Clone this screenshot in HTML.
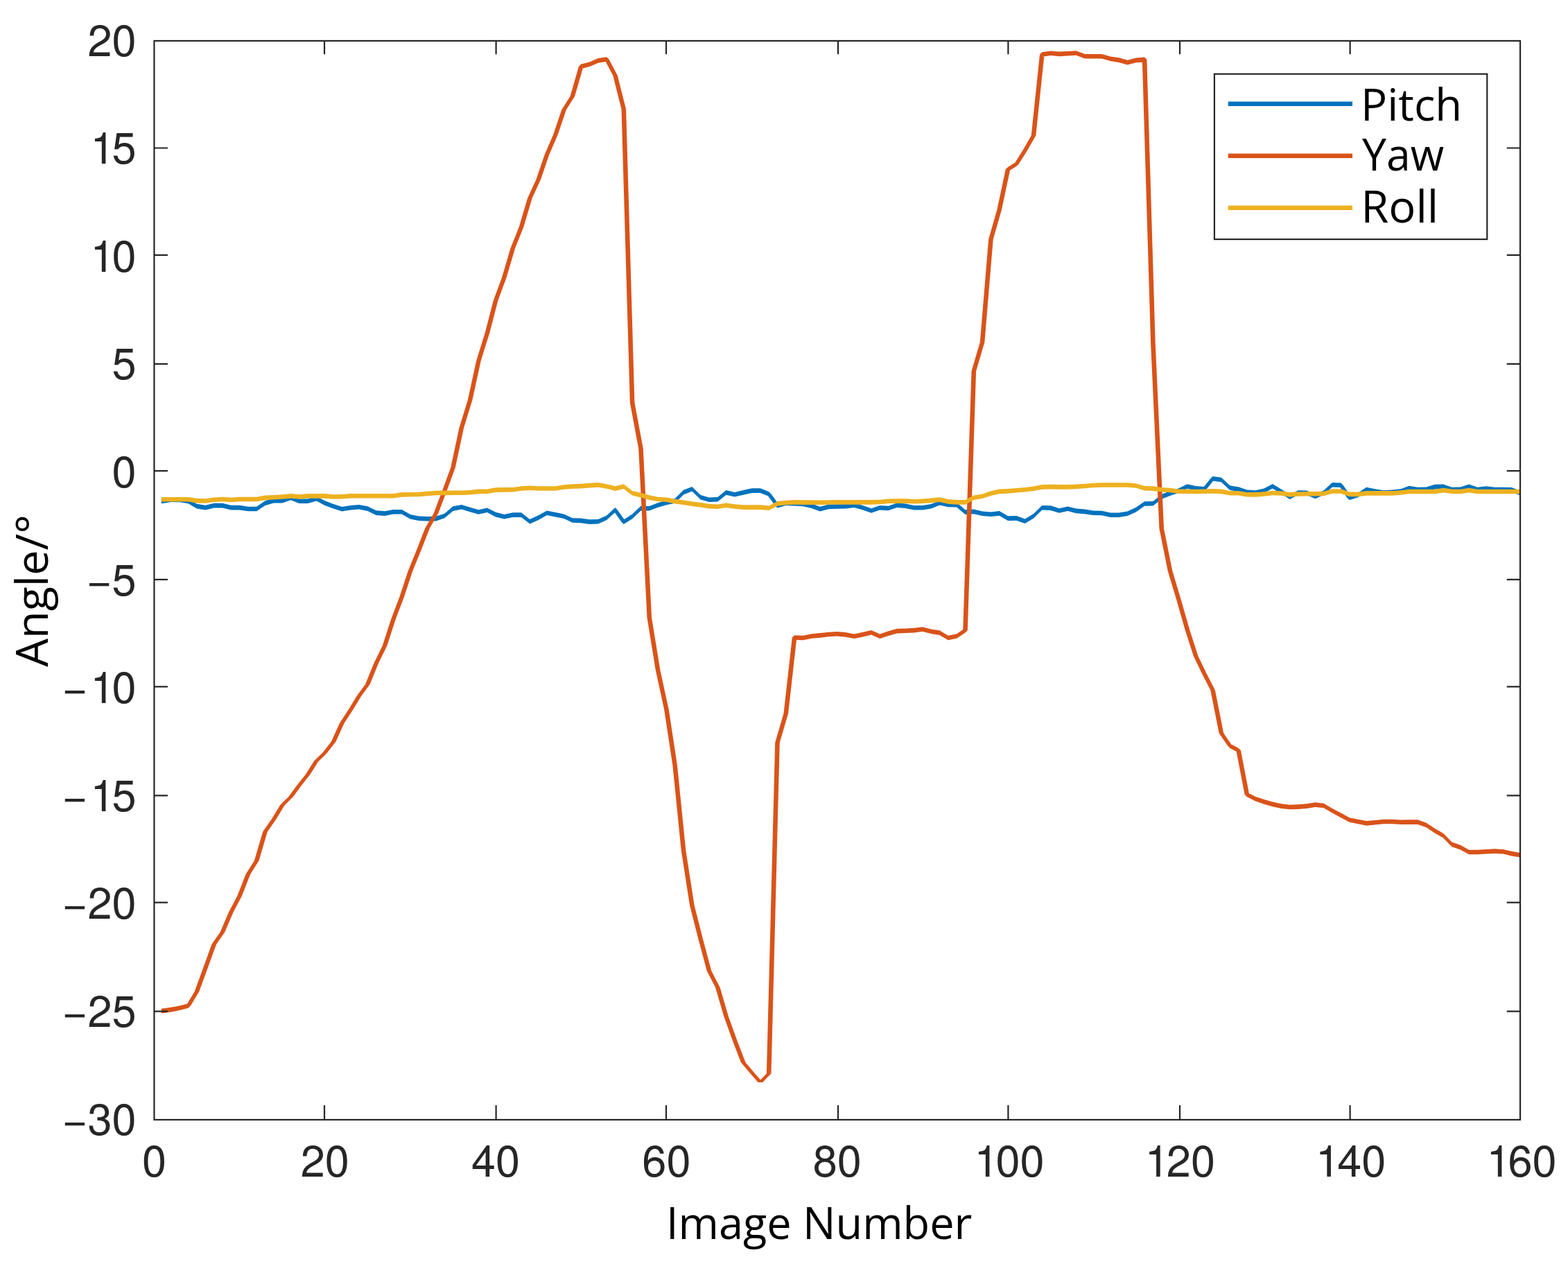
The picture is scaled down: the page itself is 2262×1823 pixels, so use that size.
<!DOCTYPE html>
<html lang="en">
<head>
<meta charset="utf-8">
<title>Pitch / Yaw / Roll angle per image number</title>
<style>
html,body{margin:0;padding:0;background:#fff;}
body{width:2262px;height:1823px;overflow:hidden;}
svg{display:block;}
.tk{font-family:"TeX Gyre Heros", "Liberation Sans", Arial, Helvetica, sans-serif;font-size:63.1px;fill:#262626;}
.lb{font-family:"Open Sans", "DejaVu Sans", "Liberation Sans", sans-serif;font-size:63.7px;fill:#000;}
.ax{stroke:#262626;stroke-width:2.2;fill:none;}
</style>
</head>
<body>
<svg xmlns="http://www.w3.org/2000/svg" width="2262" height="1823" viewBox="0 0 2262 1823">
<rect x="0" y="0" width="2262" height="1823" fill="#ffffff"/>
<defs><clipPath id="plotclip"><rect x="222.44" y="58.9" width="1970.60" height="1556.05"/></clipPath></defs>

<g clip-path="url(#plotclip)">
<path id="series-pitch" fill="#0072BD" fill-rule="nonzero" d="M232.8 719.5L234.8 719.5L234.8 726.1L232.8 726.1Z
M234.8 719.5L247.1 717.4L247.1 724.0L234.8 726.1Z
M247.1 717.4L259.4 717.7L259.4 724.3L247.1 724.0Z
M259.4 717.7L271.7 719.7L271.7 726.3L259.4 724.3Z
M271.7 719.7L284.0 726.8L284.0 733.4L271.7 726.3Z
M284.0 726.8L296.3 728.8L296.3 735.4L284.0 733.4Z
M296.3 728.8L308.7 725.8L308.7 732.4L296.3 735.4Z
M308.7 725.8L321.0 725.8L321.0 732.4L308.7 732.4Z
M321.0 725.8L333.3 728.8L333.3 735.4L321.0 732.4Z
M333.3 728.8L345.6 728.8L345.6 735.4L333.3 735.4Z
M345.6 728.8L357.9 730.7L357.9 737.3L345.6 735.4Z
M357.9 730.7L370.2 730.7L370.2 737.3L357.9 737.3Z
M370.2 730.7L382.5 722.3L382.5 728.9L370.2 737.3Z
M382.5 722.3L394.9 718.8L394.9 725.4L382.5 728.9Z
M394.9 718.8L407.2 718.8L407.2 725.4L394.9 725.4Z
M407.2 718.8L419.5 714.6L419.5 721.2L407.2 725.4Z
M419.5 714.6L431.8 719.5L431.8 726.1L419.5 721.2Z
M431.8 719.5L444.1 719.5L444.1 726.1L431.8 726.1Z
M444.1 719.5L456.4 716.0L456.4 722.6L444.1 726.1Z
M456.4 716.0L468.8 722.3L468.8 728.9L456.4 722.6Z
M468.8 722.3L481.1 727.0L481.1 733.6L468.8 728.9Z
M481.1 727.0L493.4 730.9L493.4 737.5L481.1 733.6Z
M493.4 730.9L505.7 728.9L505.7 735.5L493.4 737.5Z
M505.7 728.9L518.0 727.9L518.0 734.5L505.7 735.5Z
M518.0 727.9L530.3 730.3L530.3 736.9L518.0 734.5Z
M530.3 730.3L542.7 736.3L542.7 742.9L530.3 736.9Z
M542.7 736.3L555.0 737.3L555.0 743.9L542.7 742.9Z
M555.0 737.3L567.3 735.0L567.3 741.6L555.0 743.9Z
M567.3 735.0L579.6 734.9L579.6 741.5L567.3 741.6Z
M579.6 734.9L591.9 741.9L591.9 748.5L579.6 741.5Z
M591.9 741.9L604.2 744.4L604.2 751.0L591.9 748.5Z
M604.2 744.4L616.6 744.9L616.6 751.5L604.2 751.0Z
M616.6 744.9L628.9 744.8L628.9 751.4L616.6 751.5Z
M628.9 744.8L641.2 740.7L641.2 747.3L628.9 751.4Z
M641.2 740.7L653.5 730.3L653.5 736.9L641.2 747.3Z
M653.5 730.3L665.8 727.9L665.8 734.5L653.5 736.9Z
M665.8 727.9L678.1 731.7L678.1 738.3L665.8 734.5Z
M678.1 731.7L690.4 735.2L690.4 741.8L678.1 738.3Z
M690.4 735.2L702.8 732.4L702.8 739.0L690.4 741.8Z
M702.8 732.4L715.1 738.8L715.1 745.4L702.8 739.0Z
M715.1 738.8L727.4 741.9L727.4 748.5L715.1 745.4Z
M727.4 741.9L739.7 739.3L739.7 745.9L727.4 748.5Z
M739.7 739.3L752.0 739.3L752.0 745.9L739.7 745.9Z
M752.0 739.3L764.3 748.9L764.3 755.5L752.0 745.9Z
M764.3 748.9L776.7 743.3L776.7 749.9L764.3 755.5Z
M776.7 743.3L789.0 736.5L789.0 743.1L776.7 749.9Z
M789.0 736.5L801.3 739.0L801.3 745.6L789.0 743.1Z
M801.3 739.0L813.6 741.4L813.6 748.0L801.3 745.6Z
M813.6 741.4L825.9 747.2L825.9 753.8L813.6 748.0Z
M825.9 747.2L838.2 747.6L838.2 754.2L825.9 753.8Z
M838.2 747.6L850.6 749.3L850.6 755.9L838.2 754.2Z
M850.6 749.3L862.9 749.0L862.9 755.6L850.6 755.9Z
M862.9 749.0L875.2 743.4L875.2 750.0L862.9 755.6Z
M875.2 743.4L887.5 732.1L887.5 738.7L875.2 750.0Z
M890.8 735.4L903.1 752.8L896.5 752.8L884.2 735.4Z
M899.8 749.5L912.1 741.6L912.1 748.2L899.8 756.1Z
M912.1 741.6L924.5 729.8L924.5 736.4L912.1 748.2Z
M924.5 729.8L936.8 730.0L936.8 736.6L924.5 736.4Z
M936.8 730.0L949.1 725.2L949.1 731.8L936.8 736.6Z
M949.1 725.2L961.4 721.6L961.4 728.2L949.1 731.8Z
M961.4 721.6L973.7 719.1L973.7 725.7L961.4 728.2Z
M973.7 719.1L986.0 706.8L986.0 713.4L973.7 725.7Z
M986.0 706.8L998.3 701.9L998.3 708.5L986.0 713.4Z
M998.3 701.9L1010.7 714.0L1010.7 720.6L998.3 708.5Z
M1010.7 714.0L1023.0 717.4L1023.0 724.0L1010.7 720.6Z
M1023.0 717.4L1035.3 717.0L1035.3 723.6L1023.0 724.0Z
M1035.3 717.0L1047.6 707.1L1047.6 713.7L1035.3 723.6Z
M1047.6 707.1L1059.9 709.9L1059.9 716.5L1047.6 713.7Z
M1059.9 709.9L1072.2 707.1L1072.2 713.7L1059.9 716.5Z
M1072.2 707.1L1084.6 704.3L1084.6 710.9L1072.2 713.7Z
M1084.6 704.3L1096.9 704.3L1096.9 710.9L1084.6 710.9Z
M1096.9 704.3L1109.2 709.2L1109.2 715.8L1096.9 710.9Z
M1112.5 712.5L1124.8 729.2L1118.2 729.2L1105.9 712.5Z
M1121.5 725.9L1133.8 722.4L1133.8 729.0L1121.5 732.5Z
M1133.8 722.4L1146.1 722.9L1146.1 729.5L1133.8 729.0Z
M1146.1 722.9L1158.5 723.6L1158.5 730.2L1146.1 729.5Z
M1158.5 723.6L1170.8 726.4L1170.8 733.0L1158.5 730.2Z
M1170.8 726.4L1183.1 730.8L1183.1 737.4L1170.8 733.0Z
M1183.1 730.8L1195.4 727.6L1195.4 734.2L1183.1 737.4Z
M1195.4 727.6L1207.7 727.2L1207.7 733.8L1195.4 734.2Z
M1207.7 727.2L1220.0 726.9L1220.0 733.5L1207.7 733.8Z
M1220.0 726.9L1232.4 725.5L1232.4 732.1L1220.0 733.5Z
M1232.4 725.5L1244.7 729.0L1244.7 735.6L1232.4 732.1Z
M1244.7 729.0L1257.0 733.2L1257.0 739.8L1244.7 735.6Z
M1257.0 733.2L1269.3 729.0L1269.3 735.6L1257.0 739.8Z
M1269.3 729.0L1281.6 729.7L1281.6 736.3L1269.3 735.6Z
M1281.6 729.7L1293.9 725.5L1293.9 732.1L1281.6 736.3Z
M1293.9 725.5L1306.2 726.5L1306.2 733.1L1293.9 732.1Z
M1306.2 726.5L1318.6 729.0L1318.6 735.6L1306.2 733.1Z
M1318.6 729.0L1330.9 729.0L1330.9 735.6L1318.6 735.6Z
M1330.9 729.0L1343.2 726.9L1343.2 733.5L1330.9 735.6Z
M1343.2 726.9L1355.5 722.0L1355.5 728.6L1343.2 733.5Z
M1355.5 722.0L1367.8 724.6L1367.8 731.2L1355.5 728.6Z
M1367.8 724.6L1380.1 724.8L1380.1 731.4L1367.8 731.2Z
M1380.1 724.8L1392.5 735.3L1392.5 741.9L1380.1 731.4Z
M1392.5 735.3L1404.8 734.6L1404.8 741.2L1392.5 741.9Z
M1404.8 734.6L1417.1 737.5L1417.1 744.1L1404.8 741.2Z
M1417.1 737.5L1429.4 738.5L1429.4 745.1L1417.1 744.1Z
M1429.4 738.5L1441.7 737.1L1441.7 743.7L1429.4 745.1Z
M1441.7 737.1L1454.0 744.3L1454.0 750.9L1441.7 743.7Z
M1454.0 744.3L1466.4 744.1L1466.4 750.7L1454.0 750.9Z
M1466.4 744.1L1478.7 748.5L1478.7 755.1L1466.4 750.7Z
M1478.7 748.5L1491.0 740.9L1491.0 747.5L1478.7 755.1Z
M1491.0 740.9L1503.3 729.0L1503.3 735.6L1491.0 747.5Z
M1503.3 729.0L1515.6 729.3L1515.6 735.9L1503.3 735.6Z
M1515.6 729.3L1527.9 733.2L1527.9 739.8L1515.6 735.9Z
M1527.9 733.2L1540.3 730.4L1540.3 737.0L1527.9 739.8Z
M1540.3 730.4L1552.6 733.6L1552.6 740.2L1540.3 737.0Z
M1552.6 733.6L1564.9 734.6L1564.9 741.2L1552.6 740.2Z
M1564.9 734.6L1577.2 736.4L1577.2 743.0L1564.9 741.2Z
M1577.2 736.4L1589.5 736.7L1589.5 743.3L1577.2 743.0Z
M1589.5 736.7L1601.8 739.5L1601.8 746.1L1589.5 743.3Z
M1601.8 739.5L1614.1 739.5L1614.1 746.1L1601.8 746.1Z
M1614.1 739.5L1626.5 737.4L1626.5 744.0L1614.1 746.1Z
M1626.5 737.4L1638.8 731.8L1638.8 738.4L1626.5 744.0Z
M1638.8 731.8L1651.1 723.2L1651.1 729.8L1638.8 738.4Z
M1651.1 723.2L1663.4 722.9L1663.4 729.5L1651.1 729.8Z
M1663.4 722.9L1675.7 713.1L1675.7 719.7L1663.4 729.5Z
M1675.7 713.1L1688.0 708.3L1688.0 714.9L1675.7 719.7Z
M1688.0 708.3L1700.4 704.2L1700.4 710.8L1688.0 714.9Z
M1700.4 704.2L1712.7 698.2L1712.7 704.8L1700.4 710.8Z
M1712.7 698.2L1725.0 701.1L1725.0 707.7L1712.7 704.8Z
M1725.0 701.1L1737.3 702.1L1737.3 708.7L1725.0 707.7Z
M1734.0 705.4L1746.3 690.2L1752.9 690.2L1740.6 705.4Z
M1749.6 686.9L1761.9 688.7L1761.9 695.3L1749.6 693.5Z
M1761.9 688.7L1774.3 700.3L1774.3 706.9L1761.9 695.3Z
M1774.3 700.3L1786.6 702.3L1786.6 708.9L1774.3 706.9Z
M1786.6 702.3L1798.9 706.5L1798.9 713.1L1786.6 708.9Z
M1798.9 706.5L1811.2 707.3L1811.2 713.9L1798.9 713.1Z
M1811.2 707.3L1823.5 704.4L1823.5 711.0L1811.2 713.9Z
M1823.5 704.4L1835.8 698.0L1835.8 704.6L1823.5 711.0Z
M1835.8 698.0L1848.2 705.5L1848.2 712.1L1835.8 704.6Z
M1848.2 705.5L1860.5 713.4L1860.5 720.0L1848.2 712.1Z
M1860.5 713.4L1872.8 707.3L1872.8 713.9L1860.5 720.0Z
M1872.8 707.3L1885.1 707.5L1885.1 714.1L1872.8 713.9Z
M1885.1 707.5L1897.4 712.7L1897.4 719.3L1885.1 714.1Z
M1897.4 712.7L1909.7 707.2L1909.7 713.8L1897.4 719.3Z
M1909.7 707.2L1922.0 696.0L1922.0 702.6L1909.7 713.8Z
M1922.0 696.0L1934.4 696.4L1934.4 703.0L1922.0 702.6Z
M1937.7 699.7L1950.0 717.9L1943.4 717.9L1931.1 699.7Z
M1946.7 714.6L1959.0 710.7L1959.0 717.3L1946.7 721.2Z
M1959.0 710.7L1971.3 702.8L1971.3 709.4L1959.0 717.3Z
M1971.3 702.8L1983.6 705.2L1983.6 711.8L1971.3 709.4Z
M1983.6 705.2L1995.9 707.2L1995.9 713.8L1983.6 711.8Z
M1995.9 707.2L2008.3 706.6L2008.3 713.2L1995.9 713.8Z
M2008.3 706.6L2020.6 705.2L2020.6 711.8L2008.3 713.2Z
M2020.6 705.2L2032.9 700.8L2032.9 707.4L2020.6 711.8Z
M2032.9 700.8L2045.2 702.8L2045.2 709.4L2032.9 707.4Z
M2045.2 702.8L2057.5 702.6L2057.5 709.2L2045.2 709.4Z
M2057.5 702.6L2069.8 698.8L2069.8 705.4L2057.5 709.2Z
M2069.8 698.8L2082.2 698.4L2082.2 705.0L2069.8 705.4Z
M2082.2 698.4L2094.5 702.8L2094.5 709.4L2082.2 705.0Z
M2094.5 702.8L2106.8 702.6L2106.8 709.2L2094.5 709.4Z
M2106.8 702.6L2119.1 698.4L2119.1 705.0L2106.8 709.2Z
M2119.1 698.4L2131.4 702.8L2131.4 709.4L2119.1 705.0Z
M2131.4 702.8L2143.7 701.2L2143.7 707.8L2131.4 709.4Z
M2143.7 701.2L2156.1 702.8L2156.1 709.4L2143.7 707.8Z
M2156.1 702.8L2168.4 702.8L2168.4 709.4L2156.1 709.4Z
M2168.4 702.8L2180.7 703.1L2180.7 709.7L2168.4 709.4Z
M2180.7 703.1L2193.0 707.8L2193.0 714.4L2180.7 709.7Z
M887.5 732.1L890.8 735.4L887.5 738.7L884.2 735.4Z
M899.8 749.5L903.1 752.8L899.8 756.1L896.5 752.8Z
M1109.2 709.2L1112.5 712.5L1109.2 715.8L1105.9 712.5Z
M1121.5 725.9L1124.8 729.2L1121.5 732.5L1118.2 729.2Z
M1737.3 702.1L1740.6 705.4L1737.3 708.7L1734.0 705.4Z
M1749.6 686.9L1752.9 690.2L1749.6 693.5L1746.3 690.2Z
M1934.4 696.4L1937.7 699.7L1934.4 703.0L1931.1 699.7Z
M1946.7 714.6L1950.0 717.9L1946.7 721.2L1943.4 717.9Z"/>
<path id="series-yaw" fill="#D95319" fill-rule="nonzero" d="M232.8 1454.6L234.8 1454.6L234.8 1461.2L232.8 1461.2Z
M234.8 1454.6L247.1 1452.8L247.1 1459.4L234.8 1461.2Z
M247.1 1452.8L259.4 1450.5L259.4 1457.1L247.1 1459.4Z
M259.4 1450.5L271.7 1447.2L271.7 1453.8L259.4 1457.1Z
M268.4 1450.5L280.7 1430.1L287.3 1430.1L275.0 1450.5Z
M280.7 1430.1L293.0 1396.3L299.6 1396.3L287.3 1430.1Z
M293.0 1396.3L305.4 1361.9L312.0 1361.9L299.6 1396.3Z
M305.4 1361.9L317.7 1344.3L324.3 1344.3L312.0 1361.9Z
M317.7 1344.3L330.0 1315.5L336.6 1315.5L324.3 1344.3Z
M330.0 1315.5L342.3 1292.3L348.9 1292.3L336.6 1315.5Z
M342.3 1292.3L354.6 1260.7L361.2 1260.7L348.9 1292.3Z
M354.6 1260.7L366.9 1241.2L373.5 1241.2L361.2 1260.7Z
M366.9 1241.2L379.2 1199.4L385.8 1199.4L373.5 1241.2Z
M379.2 1199.4L391.6 1181.8L398.2 1181.8L385.8 1199.4Z
M391.6 1181.8L403.9 1161.4L410.5 1161.4L398.2 1181.8Z
M407.2 1158.1L419.5 1146.0L419.5 1152.6L407.2 1164.7Z
M416.2 1149.3L428.5 1132.5L435.1 1132.5L422.8 1149.3Z
M428.5 1132.5L440.8 1117.1L447.4 1117.1L435.1 1132.5Z
M440.8 1117.1L453.1 1097.6L459.7 1097.6L447.4 1117.1Z
M456.4 1094.3L468.8 1082.3L468.8 1088.9L456.4 1100.9Z
M465.5 1085.6L477.8 1069.8L484.4 1069.8L472.1 1085.6Z
M477.8 1069.8L490.1 1042.8L496.7 1042.8L484.4 1069.8Z
M490.1 1042.8L502.4 1023.9L509.0 1023.9L496.7 1042.8Z
M502.4 1023.9L514.7 1003.8L521.3 1003.8L509.0 1023.9Z
M514.7 1003.8L527.0 987.1L533.6 987.1L521.3 1003.8Z
M527.0 987.1L539.4 956.5L546.0 956.5L533.6 987.1Z
M539.4 956.5L551.7 931.4L558.3 931.4L546.0 956.5Z
M551.7 931.4L564.0 893.4L570.6 893.4L558.3 931.4Z
M564.0 893.4L576.3 860.9L582.9 860.9L570.6 893.4Z
M576.3 860.9L588.6 823.7L595.2 823.7L582.9 860.9Z
M588.6 823.7L600.9 793.4L607.5 793.4L595.2 823.7Z
M600.9 793.4L613.3 761.8L619.9 761.8L607.5 793.4Z
M613.3 761.8L625.6 740.5L632.2 740.5L619.9 761.8Z
M625.6 740.5L637.9 708.0L644.5 708.0L632.2 740.5Z
M637.9 708.0L650.2 674.6L656.8 674.6L644.5 708.0Z
M650.2 674.6L662.5 617.0L669.1 617.0L656.8 674.6Z
M662.5 617.0L674.8 577.1L681.4 577.1L669.1 617.0Z
M674.8 577.1L687.1 520.4L693.7 520.4L681.4 577.1Z
M687.1 520.4L699.5 480.8L706.1 480.8L693.7 520.4Z
M699.5 480.8L711.8 433.5L718.4 433.5L706.1 480.8Z
M711.8 433.5L724.1 400.0L730.7 400.0L718.4 433.5Z
M724.1 400.0L736.4 358.3L743.0 358.3L730.7 400.0Z
M736.4 358.3L748.7 327.6L755.3 327.6L743.0 358.3Z
M748.7 327.6L761.0 286.0L767.6 286.0L755.3 327.6Z
M761.0 286.0L773.4 259.0L780.0 259.0L767.6 286.0Z
M773.4 259.0L785.7 223.0L792.3 223.0L780.0 259.0Z
M785.7 223.0L798.0 194.6L804.6 194.6L792.3 223.0Z
M798.0 194.6L810.3 158.2L816.9 158.2L804.6 194.6Z
M810.3 158.2L822.6 138.7L829.2 138.7L816.9 158.2Z
M822.6 138.7L834.9 95.9L841.5 95.9L829.2 138.7Z
M838.2 92.6L850.6 89.4L850.6 96.0L838.2 99.2Z
M850.6 89.4L862.9 84.1L862.9 90.7L850.6 96.0Z
M862.9 84.1L875.2 82.2L875.2 88.8L862.9 90.7Z
M878.5 85.5L890.8 108.7L884.2 108.7L871.9 85.5Z
M890.8 108.7L903.1 157.5L896.5 157.5L884.2 108.7Z
M903.1 157.5L915.4 580.4L908.8 580.4L896.5 157.5Z
M915.4 580.4L927.8 647.0L921.2 647.0L908.8 580.4Z
M927.8 647.0L940.1 891.0L933.5 891.0L921.2 647.0Z
M940.1 891.0L952.4 966.4L945.8 966.4L933.5 891.0Z
M952.4 966.4L964.7 1023.0L958.1 1023.0L945.8 966.4Z
M964.7 1023.0L977.0 1104.0L970.4 1104.0L958.1 1023.0Z
M977.0 1104.0L989.3 1226.3L982.7 1226.3L970.4 1104.0Z
M989.3 1226.3L1001.6 1305.5L995.0 1305.5L982.7 1226.3Z
M1001.6 1305.5L1014.0 1354.2L1007.4 1354.2L995.0 1305.5Z
M1014.0 1354.2L1026.3 1400.2L1019.7 1400.2L1007.4 1354.2Z
M1026.3 1400.2L1038.6 1424.0L1032.0 1424.0L1019.7 1400.2Z
M1038.6 1424.0L1050.9 1466.0L1044.3 1466.0L1032.0 1424.0Z
M1050.9 1466.0L1063.2 1500.3L1056.6 1500.3L1044.3 1466.0Z
M1063.2 1500.3L1075.5 1532.3L1068.9 1532.3L1056.6 1500.3Z
M1075.5 1532.3L1087.9 1546.9L1081.3 1546.9L1068.9 1532.3Z
M1087.9 1546.9L1100.2 1560.9L1093.6 1560.9L1081.3 1546.9Z
M1093.6 1560.9L1105.9 1548.3L1112.5 1548.3L1100.2 1560.9Z
M1105.9 1548.3L1118.2 1071.0L1124.8 1071.0L1112.5 1548.3Z
M1118.2 1071.0L1130.5 1029.0L1137.1 1029.0L1124.8 1071.0Z
M1130.5 1029.0L1142.8 919.5L1149.4 919.5L1137.1 1029.0Z
M1146.1 916.2L1158.5 916.7L1158.5 923.3L1146.1 922.8Z
M1158.5 916.7L1170.8 914.2L1170.8 920.8L1158.5 923.3Z
M1170.8 914.2L1183.1 913.1L1183.1 919.7L1170.8 920.8Z
M1183.1 913.1L1195.4 911.7L1195.4 918.3L1183.1 919.7Z
M1195.4 911.7L1207.7 910.9L1207.7 917.5L1195.4 918.3Z
M1207.7 910.9L1220.0 912.1L1220.0 918.7L1207.7 917.5Z
M1220.0 912.1L1232.4 914.5L1232.4 921.1L1220.0 918.7Z
M1232.4 914.5L1244.7 911.8L1244.7 918.4L1232.4 921.1Z
M1244.7 911.8L1257.0 908.9L1257.0 915.5L1244.7 918.4Z
M1257.0 908.9L1269.3 914.5L1269.3 921.1L1257.0 915.5Z
M1269.3 914.5L1281.6 910.3L1281.6 916.9L1269.3 921.1Z
M1281.6 910.3L1293.9 906.8L1293.9 913.4L1281.6 916.9Z
M1293.9 906.8L1306.2 906.5L1306.2 913.1L1293.9 913.4Z
M1306.2 906.5L1318.6 905.8L1318.6 912.4L1306.2 913.1Z
M1318.6 905.8L1330.9 904.2L1330.9 910.8L1318.6 912.4Z
M1330.9 904.2L1343.2 907.5L1343.2 914.1L1330.9 910.8Z
M1343.2 907.5L1355.5 909.3L1355.5 915.9L1343.2 914.1Z
M1355.5 909.3L1367.8 916.7L1367.8 923.3L1355.5 915.9Z
M1367.8 916.7L1380.1 914.2L1380.1 920.8L1367.8 923.3Z
M1380.1 914.2L1392.5 905.8L1392.5 912.4L1380.1 920.8Z
M1389.2 909.1L1401.5 535.2L1408.1 535.2L1395.8 909.1Z
M1401.5 535.2L1413.8 493.4L1420.4 493.4L1408.1 535.2Z
M1413.8 493.4L1426.1 345.3L1432.7 345.3L1420.4 493.4Z
M1426.1 345.3L1438.4 302.2L1445.0 302.2L1432.7 345.3Z
M1438.4 302.2L1450.7 244.3L1457.3 244.3L1445.0 302.2Z
M1454.0 241.0L1466.4 233.2L1466.4 239.8L1454.0 247.6Z
M1463.1 236.5L1475.4 217.0L1482.0 217.0L1469.7 236.5Z
M1475.4 217.0L1487.7 195.5L1494.3 195.5L1482.0 217.0Z
M1487.7 195.5L1500.0 78.6L1506.6 78.6L1494.3 195.5Z
M1503.3 75.3L1515.6 73.4L1515.6 80.0L1503.3 81.9Z
M1515.6 73.4L1527.9 74.6L1527.9 81.2L1515.6 80.0Z
M1527.9 74.6L1540.3 73.9L1540.3 80.5L1527.9 81.2Z
M1540.3 73.9L1552.6 73.2L1552.6 79.8L1540.3 80.5Z
M1552.6 73.2L1564.9 78.0L1564.9 84.6L1552.6 79.8Z
M1564.9 78.0L1577.2 78.0L1577.2 84.6L1564.9 84.6Z
M1577.2 78.0L1589.5 78.0L1589.5 84.6L1577.2 84.6Z
M1589.5 78.0L1601.8 81.5L1601.8 88.1L1589.5 84.6Z
M1601.8 81.5L1614.1 83.3L1614.1 89.9L1601.8 88.1Z
M1614.1 83.3L1626.5 86.8L1626.5 93.4L1614.1 89.9Z
M1626.5 86.8L1638.8 83.6L1638.8 90.2L1626.5 93.4Z
M1638.8 83.6L1651.1 82.6L1651.1 89.2L1638.8 90.2Z
M1654.4 85.9L1666.7 495.0L1660.1 495.0L1647.8 85.9Z
M1666.7 495.0L1679.0 762.2L1672.4 762.2L1660.1 495.0Z
M1679.0 762.2L1691.3 823.6L1684.7 823.6L1672.4 762.2Z
M1691.3 823.6L1703.7 864.7L1697.1 864.7L1684.7 823.6Z
M1703.7 864.7L1716.0 907.8L1709.4 907.8L1697.1 864.7Z
M1716.0 907.8L1728.3 946.1L1721.7 946.1L1709.4 907.8Z
M1728.3 946.1L1740.6 971.5L1734.0 971.5L1721.7 946.1Z
M1740.6 971.5L1752.9 995.5L1746.3 995.5L1734.0 971.5Z
M1752.9 995.5L1765.2 1057.5L1758.6 1057.5L1746.3 995.5Z
M1765.2 1057.5L1777.6 1075.6L1771.0 1075.6L1758.6 1057.5Z
M1774.3 1072.3L1786.6 1079.0L1786.6 1085.6L1774.3 1078.9Z
M1789.9 1082.3L1802.2 1145.9L1795.6 1145.9L1783.3 1082.3Z
M1798.9 1142.6L1811.2 1148.9L1811.2 1155.5L1798.9 1149.2Z
M1811.2 1148.9L1823.5 1153.1L1823.5 1159.7L1811.2 1155.5Z
M1823.5 1153.1L1835.8 1156.6L1835.8 1163.2L1823.5 1159.7Z
M1835.8 1156.6L1848.2 1159.3L1848.2 1165.9L1835.8 1163.2Z
M1848.2 1159.3L1860.5 1160.7L1860.5 1167.3L1848.2 1165.9Z
M1860.5 1160.7L1872.8 1160.3L1872.8 1166.9L1860.5 1167.3Z
M1872.8 1160.3L1885.1 1159.3L1885.1 1165.9L1872.8 1166.9Z
M1885.1 1159.3L1897.4 1157.3L1897.4 1163.9L1885.1 1165.9Z
M1897.4 1157.3L1909.7 1158.7L1909.7 1165.3L1897.4 1163.9Z
M1909.7 1158.7L1922.0 1166.0L1922.0 1172.6L1909.7 1165.3Z
M1922.0 1166.0L1934.4 1172.6L1934.4 1179.2L1922.0 1172.6Z
M1934.4 1172.6L1946.7 1179.2L1946.7 1185.8L1934.4 1179.2Z
M1946.7 1179.2L1959.0 1181.7L1959.0 1188.3L1946.7 1185.8Z
M1959.0 1181.7L1971.3 1184.1L1971.3 1190.7L1959.0 1188.3Z
M1971.3 1184.1L1983.6 1182.9L1983.6 1189.5L1971.3 1190.7Z
M1983.6 1182.9L1995.9 1181.7L1995.9 1188.3L1983.6 1189.5Z
M1995.9 1181.7L2008.3 1181.7L2008.3 1188.3L1995.9 1188.3Z
M2008.3 1181.7L2020.6 1182.5L2020.6 1189.1L2008.3 1188.3Z
M2020.6 1182.5L2032.9 1182.3L2032.9 1188.9L2020.6 1189.1Z
M2032.9 1182.3L2045.2 1182.3L2045.2 1188.9L2032.9 1188.9Z
M2045.2 1182.3L2057.5 1186.7L2057.5 1193.3L2045.2 1188.9Z
M2057.5 1186.7L2069.8 1194.8L2069.8 1201.4L2057.5 1193.3Z
M2069.8 1194.8L2082.2 1202.0L2082.2 1208.6L2069.8 1201.4Z
M2085.5 1205.3L2097.8 1217.9L2091.2 1217.9L2078.9 1205.3Z
M2094.5 1214.6L2106.8 1218.8L2106.8 1225.4L2094.5 1221.2Z
M2106.8 1218.8L2119.1 1225.7L2119.1 1232.3L2106.8 1225.4Z
M2119.1 1225.7L2131.4 1225.7L2131.4 1232.3L2119.1 1232.3Z
M2131.4 1225.7L2143.7 1225.0L2143.7 1231.6L2131.4 1232.3Z
M2143.7 1225.0L2156.1 1224.3L2156.1 1230.9L2143.7 1231.6Z
M2156.1 1224.3L2168.4 1225.0L2168.4 1231.6L2156.1 1230.9Z
M2168.4 1225.0L2180.7 1227.8L2180.7 1234.4L2168.4 1231.6Z
M2180.7 1227.8L2193.0 1229.9L2193.0 1236.5L2180.7 1234.4Z
M271.7 1447.2L275.0 1450.5L271.7 1453.8L268.4 1450.5Z
M407.2 1158.1L410.5 1161.4L407.2 1164.7L403.9 1161.4Z
M419.5 1146.0L422.8 1149.3L419.5 1152.6L416.2 1149.3Z
M456.4 1094.3L459.7 1097.6L456.4 1100.9L453.1 1097.6Z
M468.8 1082.3L472.1 1085.6L468.8 1088.9L465.5 1085.6Z
M838.2 92.6L841.5 95.9L838.2 99.2L834.9 95.9Z
M875.2 82.2L878.5 85.5L875.2 88.8L871.9 85.5Z
M1146.1 916.2L1149.4 919.5L1146.1 922.8L1142.8 919.5Z
M1392.5 905.8L1395.8 909.1L1392.5 912.4L1389.2 909.1Z
M1454.0 241.0L1457.3 244.3L1454.0 247.6L1450.7 244.3Z
M1466.4 233.2L1469.7 236.5L1466.4 239.8L1463.1 236.5Z
M1503.3 75.3L1506.6 78.6L1503.3 81.9L1500.0 78.6Z
M1651.1 82.6L1654.4 85.9L1651.1 89.2L1647.8 85.9Z
M1774.3 1072.3L1777.6 1075.6L1774.3 1078.9L1771.0 1075.6Z
M1786.6 1079.0L1789.9 1082.3L1786.6 1085.6L1783.3 1082.3Z
M1798.9 1142.6L1802.2 1145.9L1798.9 1149.2L1795.6 1145.9Z
M2082.2 1202.0L2085.5 1205.3L2082.2 1208.6L2078.9 1205.3Z
M2094.5 1214.6L2097.8 1217.9L2094.5 1221.2L2091.2 1217.9Z"/>
<path id="series-roll" fill="#EDB120" fill-rule="nonzero" d="M232.8 716.9L234.8 716.9L234.8 723.5L232.8 723.5Z
M234.8 716.9L247.1 716.9L247.1 723.5L234.8 723.5Z
M247.1 716.9L259.4 716.9L259.4 723.5L247.1 723.5Z
M259.4 716.9L271.7 717.0L271.7 723.6L259.4 723.5Z
M271.7 717.0L284.0 718.8L284.0 725.4L271.7 723.6Z
M284.0 718.8L296.3 719.2L296.3 725.8L284.0 725.4Z
M296.3 719.2L308.7 717.4L308.7 724.0L296.3 725.8Z
M308.7 717.4L321.0 716.7L321.0 723.3L308.7 724.0Z
M321.0 716.7L333.3 717.7L333.3 724.3L321.0 723.3Z
M333.3 717.7L345.6 716.7L345.6 723.3L333.3 724.3Z
M345.6 716.7L357.9 716.7L357.9 723.3L345.6 723.3Z
M357.9 716.7L370.2 716.7L370.2 723.3L357.9 723.3Z
M370.2 716.7L382.5 714.6L382.5 721.2L370.2 723.3Z
M382.5 714.6L394.9 713.9L394.9 720.5L382.5 721.2Z
M394.9 713.9L407.2 713.2L407.2 719.8L394.9 720.5Z
M407.2 713.2L419.5 712.1L419.5 718.7L407.2 719.8Z
M419.5 712.1L431.8 713.2L431.8 719.8L419.5 718.7Z
M431.8 713.2L444.1 712.1L444.1 718.7L431.8 719.8Z
M444.1 712.1L456.4 712.1L456.4 718.7L444.1 718.7Z
M456.4 712.1L468.8 712.1L468.8 718.7L456.4 718.7Z
M468.8 712.1L481.1 713.2L481.1 719.8L468.8 718.7Z
M481.1 713.2L493.4 712.9L493.4 719.5L481.1 719.8Z
M493.4 712.9L505.7 712.0L505.7 718.6L493.4 719.5Z
M505.7 712.0L518.0 712.0L518.0 718.6L505.7 718.6Z
M518.0 712.0L530.3 712.0L530.3 718.6L518.0 718.6Z
M530.3 712.0L542.7 712.0L542.7 718.6L530.3 718.6Z
M542.7 712.0L555.0 712.0L555.0 718.6L542.7 718.6Z
M555.0 712.0L567.3 712.0L567.3 718.6L555.0 718.6Z
M567.3 712.0L579.6 710.1L579.6 716.7L567.3 718.6Z
M579.6 710.1L591.9 710.0L591.9 716.6L579.6 716.7Z
M591.9 710.0L604.2 709.7L604.2 716.3L591.9 716.6Z
M604.2 709.7L616.6 708.7L616.6 715.3L604.2 716.3Z
M616.6 708.7L628.9 707.7L628.9 714.3L616.6 715.3Z
M628.9 707.7L641.2 707.6L641.2 714.2L628.9 714.3Z
M641.2 707.6L653.5 707.5L653.5 714.1L641.2 714.2Z
M653.5 707.5L665.8 707.5L665.8 714.1L653.5 714.1Z
M665.8 707.5L678.1 707.0L678.1 713.6L665.8 714.1Z
M678.1 707.0L690.4 705.6L690.4 712.2L678.1 713.6Z
M690.4 705.6L702.8 705.4L702.8 712.0L690.4 712.2Z
M702.8 705.4L715.1 703.3L715.1 709.9L702.8 712.0Z
M715.1 703.3L727.4 703.1L727.4 709.7L715.1 709.9Z
M727.4 703.1L739.7 703.0L739.7 709.6L727.4 709.7Z
M739.7 703.0L752.0 701.2L752.0 707.8L739.7 709.6Z
M752.0 701.2L764.3 700.4L764.3 707.0L752.0 707.8Z
M764.3 700.4L776.7 701.2L776.7 707.8L764.3 707.0Z
M776.7 701.2L789.0 701.2L789.0 707.8L776.7 707.8Z
M789.0 701.2L801.3 701.2L801.3 707.8L789.0 707.8Z
M801.3 701.2L813.6 699.2L813.6 705.8L801.3 707.8Z
M813.6 699.2L825.9 698.3L825.9 704.9L813.6 705.8Z
M825.9 698.3L838.2 697.8L838.2 704.4L825.9 704.9Z
M838.2 697.8L850.6 696.8L850.6 703.4L838.2 704.4Z
M850.6 696.8L862.9 696.1L862.9 702.7L850.6 703.4Z
M862.9 696.1L875.2 698.2L875.2 704.8L862.9 702.7Z
M875.2 698.2L887.5 701.3L887.5 707.9L875.2 704.8Z
M887.5 701.3L899.8 698.3L899.8 704.9L887.5 707.9Z
M899.8 698.3L912.1 707.9L912.1 714.5L899.8 704.9Z
M912.1 707.9L924.5 710.8L924.5 717.4L912.1 714.5Z
M924.5 710.8L936.8 714.3L936.8 720.9L924.5 717.4Z
M936.8 714.3L949.1 716.7L949.1 723.3L936.8 720.9Z
M949.1 716.7L961.4 717.5L961.4 724.1L949.1 723.3Z
M961.4 717.5L973.7 719.8L973.7 726.4L961.4 724.1Z
M973.7 719.8L986.0 721.5L986.0 728.1L973.7 726.4Z
M986.0 721.5L998.3 723.3L998.3 729.9L986.0 728.1Z
M998.3 723.3L1010.7 725.0L1010.7 731.6L998.3 729.9Z
M1010.7 725.0L1023.0 726.8L1023.0 733.4L1010.7 731.6Z
M1023.0 726.8L1035.3 727.5L1035.3 734.1L1023.0 733.4Z
M1035.3 727.5L1047.6 725.5L1047.6 732.1L1035.3 734.1Z
M1047.6 725.5L1059.9 727.2L1059.9 733.8L1047.6 732.1Z
M1059.9 727.2L1072.2 728.3L1072.2 734.9L1059.9 733.8Z
M1072.2 728.3L1084.6 728.3L1084.6 734.9L1072.2 734.9Z
M1084.6 728.3L1096.9 728.3L1096.9 734.9L1084.6 734.9Z
M1096.9 728.3L1109.2 729.4L1109.2 736.0L1096.9 734.9Z
M1109.2 729.4L1121.5 723.1L1121.5 729.7L1109.2 736.0Z
M1121.5 723.1L1133.8 721.7L1133.8 728.3L1121.5 729.7Z
M1133.8 721.7L1146.1 721.1L1146.1 727.7L1133.8 728.3Z
M1146.1 721.1L1158.5 721.3L1158.5 727.9L1146.1 727.7Z
M1158.5 721.3L1170.8 721.3L1170.8 727.9L1158.5 727.9Z
M1170.8 721.3L1183.1 721.4L1183.1 728.0L1170.8 727.9Z
M1183.1 721.4L1195.4 721.2L1195.4 727.8L1183.1 728.0Z
M1195.4 721.2L1207.7 721.1L1207.7 727.7L1195.4 727.8Z
M1207.7 721.1L1220.0 721.1L1220.0 727.7L1207.7 727.7Z
M1220.0 721.1L1232.4 721.1L1232.4 727.7L1220.0 727.7Z
M1232.4 721.1L1244.7 721.1L1244.7 727.7L1232.4 727.7Z
M1244.7 721.1L1257.0 721.1L1257.0 727.7L1244.7 727.7Z
M1257.0 721.1L1269.3 720.7L1269.3 727.3L1257.0 727.7Z
M1269.3 720.7L1281.6 719.4L1281.6 726.0L1269.3 727.3Z
M1281.6 719.4L1293.9 719.3L1293.9 725.9L1281.6 726.0Z
M1293.9 719.3L1306.2 719.3L1306.2 725.9L1293.9 725.9Z
M1306.2 719.3L1318.6 720.0L1318.6 726.6L1306.2 725.9Z
M1318.6 720.0L1330.9 719.5L1330.9 726.1L1318.6 726.6Z
M1330.9 719.5L1343.2 718.6L1343.2 725.2L1330.9 726.1Z
M1343.2 718.6L1355.5 717.3L1355.5 723.9L1343.2 725.2Z
M1355.5 717.3L1367.8 720.1L1367.8 726.7L1355.5 723.9Z
M1367.8 720.1L1380.1 721.1L1380.1 727.7L1367.8 726.7Z
M1380.1 721.1L1392.5 721.1L1392.5 727.7L1380.1 727.7Z
M1392.5 721.1L1404.8 714.5L1404.8 721.1L1392.5 727.7Z
M1404.8 714.5L1417.1 712.5L1417.1 719.1L1404.8 721.1Z
M1417.1 712.5L1429.4 708.3L1429.4 714.9L1417.1 719.1Z
M1429.4 708.3L1441.7 705.6L1441.7 712.2L1429.4 714.9Z
M1441.7 705.6L1454.0 705.1L1454.0 711.7L1441.7 712.2Z
M1454.0 705.1L1466.4 703.9L1466.4 710.5L1454.0 711.7Z
M1466.4 703.9L1478.7 703.0L1478.7 709.6L1466.4 710.5Z
M1478.7 703.0L1491.0 701.4L1491.0 708.0L1478.7 709.6Z
M1491.0 701.4L1503.3 699.1L1503.3 705.7L1491.0 708.0Z
M1503.3 699.1L1515.6 698.8L1515.6 705.4L1503.3 705.7Z
M1515.6 698.8L1527.9 699.1L1527.9 705.7L1515.6 705.4Z
M1527.9 699.1L1540.3 699.1L1540.3 705.7L1527.9 705.7Z
M1540.3 699.1L1552.6 698.6L1552.6 705.2L1540.3 705.7Z
M1552.6 698.6L1564.9 697.7L1564.9 704.3L1552.6 705.2Z
M1564.9 697.7L1577.2 696.7L1577.2 703.3L1564.9 704.3Z
M1577.2 696.7L1589.5 696.2L1589.5 702.8L1577.2 703.3Z
M1589.5 696.2L1601.8 696.2L1601.8 702.8L1589.5 702.8Z
M1601.8 696.2L1614.1 696.2L1614.1 702.8L1601.8 702.8Z
M1614.1 696.2L1626.5 696.2L1626.5 702.8L1614.1 702.8Z
M1626.5 696.2L1638.8 697.2L1638.8 703.8L1626.5 702.8Z
M1638.8 697.2L1651.1 701.0L1651.1 707.6L1638.8 703.8Z
M1651.1 701.0L1663.4 701.3L1663.4 707.9L1651.1 707.6Z
M1663.4 701.3L1675.7 703.0L1675.7 709.6L1663.4 707.9Z
M1675.7 703.0L1688.0 703.7L1688.0 710.3L1675.7 709.6Z
M1688.0 703.7L1700.4 705.4L1700.4 712.0L1688.0 710.3Z
M1700.4 705.4L1712.7 705.5L1712.7 712.1L1700.4 712.0Z
M1712.7 705.5L1725.0 705.7L1725.0 712.3L1712.7 712.1Z
M1725.0 705.7L1737.3 705.5L1737.3 712.1L1725.0 712.3Z
M1737.3 705.5L1749.6 705.1L1749.6 711.7L1737.3 712.1Z
M1749.6 705.1L1761.9 705.6L1761.9 712.2L1749.6 711.7Z
M1761.9 705.6L1774.3 708.0L1774.3 714.6L1761.9 712.2Z
M1774.3 708.0L1786.6 708.0L1786.6 714.6L1774.3 714.6Z
M1786.6 708.0L1798.9 710.0L1798.9 716.6L1786.6 714.6Z
M1798.9 710.0L1811.2 710.1L1811.2 716.7L1798.9 716.6Z
M1811.2 710.1L1823.5 709.2L1823.5 715.8L1811.2 716.7Z
M1823.5 709.2L1835.8 707.7L1835.8 714.3L1823.5 715.8Z
M1835.8 707.7L1848.2 708.2L1848.2 714.8L1835.8 714.3Z
M1848.2 708.2L1860.5 710.1L1860.5 716.7L1848.2 714.8Z
M1860.5 710.1L1872.8 709.2L1872.8 715.8L1860.5 716.7Z
M1872.8 709.2L1885.1 709.0L1885.1 715.6L1872.8 715.8Z
M1885.1 709.0L1897.4 709.0L1897.4 715.6L1885.1 715.6Z
M1897.4 709.0L1909.7 708.7L1909.7 715.3L1897.4 715.6Z
M1909.7 708.7L1922.0 705.2L1922.0 711.8L1909.7 715.3Z
M1922.0 705.2L1934.4 705.2L1934.4 711.8L1922.0 711.8Z
M1934.4 705.2L1946.7 709.6L1946.7 716.2L1934.4 711.8Z
M1946.7 709.6L1959.0 709.6L1959.0 716.2L1946.7 716.2Z
M1959.0 709.6L1971.3 708.1L1971.3 714.7L1959.0 716.2Z
M1971.3 708.1L1983.6 708.1L1983.6 714.7L1971.3 714.7Z
M1983.6 708.1L1995.9 708.1L1995.9 714.7L1983.6 714.7Z
M1995.9 708.1L2008.3 708.1L2008.3 714.7L1995.9 714.7Z
M2008.3 708.1L2020.6 707.2L2020.6 713.8L2008.3 714.7Z
M2020.6 707.2L2032.9 705.7L2032.9 712.3L2020.6 713.8Z
M2032.9 705.7L2045.2 705.7L2045.2 712.3L2032.9 712.3Z
M2045.2 705.7L2057.5 705.7L2057.5 712.3L2045.2 712.3Z
M2057.5 705.7L2069.8 705.7L2069.8 712.3L2057.5 712.3Z
M2069.8 705.7L2082.2 703.8L2082.2 710.4L2069.8 712.3Z
M2082.2 703.8L2094.5 705.4L2094.5 712.0L2082.2 710.4Z
M2094.5 705.4L2106.8 705.7L2106.8 712.3L2094.5 712.0Z
M2106.8 705.7L2119.1 703.8L2119.1 710.4L2106.8 712.3Z
M2119.1 703.8L2131.4 705.7L2131.4 712.3L2119.1 710.4Z
M2131.4 705.7L2143.7 705.7L2143.7 712.3L2131.4 712.3Z
M2143.7 705.7L2156.1 705.7L2156.1 712.3L2143.7 712.3Z
M2156.1 705.7L2168.4 705.7L2168.4 712.3L2156.1 712.3Z
M2168.4 705.7L2180.7 705.7L2180.7 712.3L2168.4 712.3Z
M2180.7 705.7L2193.0 705.7L2193.0 712.3L2180.7 712.3Z"/>
</g>
<rect class="ax" x="222.44" y="58.9" width="1970.60" height="1556.05"/>
<path class="ax" d="M468.00 1614.95 V1593.95 M468.00 58.9 V78.20 M715.60 1614.95 V1593.95 M715.60 58.9 V78.20 M961.00 1614.95 V1593.95 M961.00 58.9 V78.20 M1208.94 1614.95 V1593.95 M1208.94 58.9 V78.20 M1454.40 1614.95 V1593.95 M1454.40 58.9 V78.20 M1702.00 1614.95 V1593.95 M1702.00 58.9 V78.20 M1947.60 1614.95 V1593.95 M1947.60 58.9 V78.20 M222.44 213.50 H241.94 M2193.04 213.50 H2173.74 M222.44 367.80 H241.94 M2193.04 367.80 H2173.74 M222.44 524.80 H241.94 M2193.04 524.80 H2173.74 M222.44 679.10 H241.94 M2193.04 679.10 H2173.74 M222.44 835.90 H241.94 M2193.04 835.90 H2173.74 M222.44 990.40 H241.94 M2193.04 990.40 H2173.74 M222.44 1147.30 H241.94 M2193.04 1147.30 H2173.74 M222.44 1301.70 H241.94 M2193.04 1301.70 H2173.74 M222.44 1458.55 H241.94 M2193.04 1458.55 H2173.74"/>
<text class="tk" x="204.90" y="1696.60">0</text>
<text class="tk" x="433.68 468.76" y="1696.60">20</text>
<text class="tk" x="680.00 715.09" y="1696.60">40</text>
<text class="tk" x="926.33 961.41" y="1696.60">60</text>
<text class="tk" x="1172.65 1207.74" y="1696.60">80</text>
<text class="tk" x="1405.43 1436.52 1471.61" y="1696.60">100</text>
<text class="tk" x="1651.76 1682.85 1717.93" y="1696.60">120</text>
<text class="tk" x="1898.08 1929.17 1964.26" y="1696.60">140</text>
<text class="tk" x="2144.41 2175.50 2210.58" y="1696.60">160</text>
<text class="tk" x="89.57 126.42 161.51" y="1636.70">−30</text>
<text class="tk" x="89.57 126.42 161.51" y="1481.10">−25</text>
<text class="tk" x="89.57 126.42 161.51" y="1325.49">−20</text>
<text class="tk" x="89.57 130.42 161.51" y="1169.88">−15</text>
<text class="tk" x="89.57 130.42 161.51" y="1014.28">−10</text>
<text class="tk" x="124.66 161.51" y="858.67">−5</text>
<text class="tk" x="161.51" y="703.07">0</text>
<text class="tk" x="161.51" y="547.47">5</text>
<text class="tk" x="130.42 161.51" y="391.86">10</text>
<text class="tk" x="130.42 161.51" y="236.25">15</text>
<text class="tk" x="126.42 161.51" y="80.65">20</text>
<text class="lb" x="961.0" y="1786.9" textLength="441.4" lengthAdjust="spacingAndGlyphs">Image Number</text>
<text class="lb" transform="translate(68.7 961.8) rotate(-90)" textLength="219.7" lengthAdjust="spacingAndGlyphs">Angle/°</text>
<rect x="1751.9" y="106.7" width="393.40" height="238.40" fill="#fff" stroke="#262626" stroke-width="2.2"/>
<line x1="1771.7" y1="149.8" x2="1951" y2="149.8" stroke="#0072BD" stroke-width="6.6"/>
<text class="lb" x="1963.1" y="173.5" textLength="146.1" lengthAdjust="spacingAndGlyphs">Pitch</text>
<line x1="1771.7" y1="224.7" x2="1951" y2="224.7" stroke="#D95319" stroke-width="6.6"/>
<text class="lb" x="1965.0" y="246.3" textLength="118.1" lengthAdjust="spacingAndGlyphs">Yaw</text>
<line x1="1771.7" y1="299.7" x2="1951" y2="299.7" stroke="#EDB120" stroke-width="6.6"/>
<text class="lb" x="1963.2" y="321.2" textLength="112.0" lengthAdjust="spacingAndGlyphs">Roll</text>
</svg>
</body>
</html>
